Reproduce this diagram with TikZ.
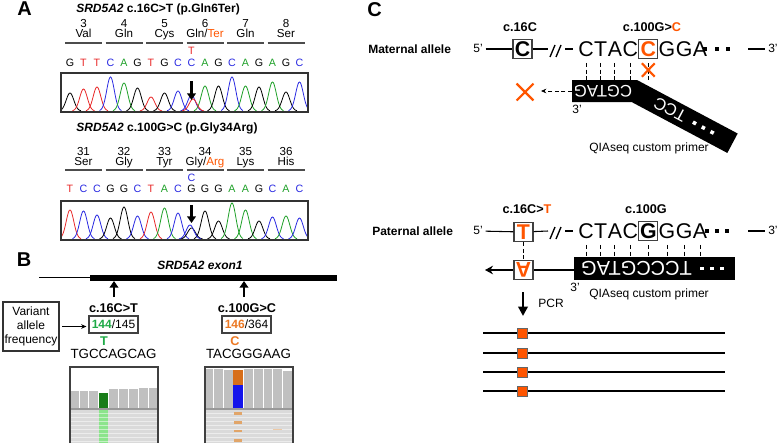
\documentclass[tikz,border=0pt]{standalone}
\usepackage{fontspec}
\setmainfont{Liberation Sans}
\usetikzlibrary{arrows.meta, positioning, shapes.misc}

\definecolor{colA}{RGB}{30,160,40}
\definecolor{colC}{RGB}{40,40,225}
\definecolor{colG}{RGB}{0,0,0}
\definecolor{colT}{RGB}{232,40,40}
\definecolor{mutorange}{RGB}{255,85,0}
\definecolor{vafgreen}{RGB}{30,170,70}
\definecolor{vaforange}{RGB}{235,120,35}
\definecolor{covgray}{RGB}{192,192,192}
\definecolor{readgray}{RGB}{218,218,218}
\definecolor{covgreen}{RGB}{25,125,25}
\definecolor{readgreen}{RGB}{140,228,140}
\definecolor{covorange}{RGB}{215,110,25}
\definecolor{covblue}{RGB}{20,20,235}
\definecolor{readorange}{RGB}{225,165,105}

\newcommand{\glnter}{Gln/\textcolor{mutorange}{Ter}}
\newcommand{\glyarg}{Gly/\textcolor{mutorange}{Arg}}

\tikzset{
  panel/.style={font=\fontsize{15}{15}\selectfont\bfseries, inner sep=0pt},
  title/.style={font=\fontsize{9}{10}\selectfont\bfseries, inner sep=0pt},
  codon/.style={font=\fontsize{8.7}{9}\selectfont, inner sep=0pt, text height=6.3pt, text depth=1.8pt},
  base/.style={font=\fontsize{8}{9}\selectfont, inner sep=0pt, text height=5.8pt, text depth=0pt},
  peak/.style={line width=0.6pt},
  chrombox/.style={draw=black!80, line width=1.1pt},
  codonbar/.style={draw=black!70, line width=1.1pt},
  fatarrow/.style={line width=2.2pt, -{Triangle[length=5pt, width=6.5pt]}},
  lbl/.style={font=\fontsize{9}{10.5}\selectfont, inner sep=0pt, text height=6.5pt, text depth=1.9pt},
  blbl/.style={font=\fontsize{9.5}{10}\selectfont\bfseries, inner sep=0pt, text height=6.8pt, text depth=0pt},
  alllbl/.style={font=\fontsize{9}{10}\selectfont\bfseries, inner sep=0pt, anchor=west, text height=6.5pt, text depth=0pt},
  vafbox/.style={draw=black!75, line width=0.8pt, font=\fontsize{9}{9}\selectfont, minimum width=36.75pt, minimum height=12.75pt, inner sep=1pt},
  bseq/.style={font=\fontsize{10}{10}\selectfont, inner sep=0pt, text height=7.2pt, text depth=0pt},
  seq/.style={font=\fontsize{16}{16}\selectfont, inner sep=0pt, text height=11.5pt, text depth=0pt},
  seqbox/.style={draw=black!75, line width=0.9pt, font=\fontsize{16}{16}\selectfont\bfseries, minimum size=14.25pt, inner sep=0pt, text height=11.5pt, text depth=0pt},
  strand/.style={line width=0.8pt},
  pair/.style={densely dashed, line width=0.6pt, shorten <=4.5pt},
  primertext/.style={font=\fontsize{15}{15}\selectfont, text=white, inner sep=0pt, text height=10.7pt, text depth=0pt},
  sqdot/.style={fill, minimum size=2.7pt, inner sep=0pt},
  mismatch/.style={cross out, draw=mutorange, line width=1.6pt, inner sep=0pt},
  mutsq/.style={fill=mutorange, draw=black!60, line width=0.6pt, minimum size=7.5pt, inner sep=0pt},
}

\begin{document}
\begin{tikzpicture}[x=0.75pt, y=-0.75pt]
    \useasboundingbox (0,0) rectangle (781,443);

    % ---------- A: Sanger traces ----------
    \node[panel] (A) at (24.5,8.5) {A};
    \node[title] (ta) at (158,9) {\textit{SRD5A2} c.16C>T (p.Gln6Ter)};
    \foreach \n/\aa [count=\k from 0] in {3/Val,4/Gln,5/Cys,6/\glnter,7/Gln,8/Ser} {
        \node[codon] (na\k) at ({83.5+40.5*\k},24) {\n};
        \node[codon] (aa\k) at ({83.5+40.5*\k},34) {\aa};
        \draw[codonbar] ({65+40.5*\k},43) -- ({102+40.5*\k},43);
    }
    \node[base, text=colT] (va) at (191.5,51) {T};
    \foreach \b [count=\i from 0] in {G,T,T,C,A,G,T,G,C,C,A,G,C,A,G,A,G,C}
        \node[base, text=col\b] (sa\i) at ({70+13.5*\i},63) {\b};
    \begin{scope}
        \clip (61,73) rectangle (308,112);
        \foreach \b/\h [count=\i from 0] in {G/18,T/22,T/24,C/34,A/28,G/23,T/14,G/18,C/20,
                                             C/16,A/25,G/25,C/34,A/25,G/24,A/29,G/19,C/29} {
            \pgfmathsetmacro\cx{70+13.5*\i}
            \pgfmathsetmacro\xa{\cx-11}
            \pgfmathsetmacro\xb{\cx+11}
            \draw[peak, col\b] plot[domain=\xa:\xb, samples=31, variable=\t]
                (\t, {111-\h*exp(-((\t-\cx)^2)/29)});
        }
        \draw[peak, colT] plot[domain=182:204, samples=31, variable=\t]
            (\t, {111-12*exp(-((\t-193)^2)/29)});
    \end{scope}
    \draw[chrombox] (61,73) rectangle (308,112);
    \coordinate (a1top) at (191.5,81);
    \coordinate (a1bot) at (191.5,100);
    \draw[fatarrow] (a1top) -- (a1bot);

    \node[title] (tb) at (167,128) {\textit{SRD5A2} c.100G>C (p.Gly34Arg)};
    \foreach \n/\aa [count=\k from 0] in {31/Ser,32/Gly,33/Tyr,34/\glyarg,35/Lys,36/His} {
        \node[codon] (nb\k) at ({83.5+40.5*\k},152) {\n};
        \node[codon] (ab\k) at ({83.5+40.5*\k},162) {\aa};
        \draw[codonbar] ({65+40.5*\k},170) -- ({102+40.5*\k},170);
    }
    \node[base, text=colC] (vb) at (191.5,178) {C};
    \foreach \b [count=\i from 0] in {T,C,C,G,G,C,T,A,C,G,G,G,A,A,G,C,A,C}
        \node[base, text=col\b] (sb\i) at ({70+13.5*\i},189) {\b};
    \begin{scope}
        \clip (61,201) rectangle (308,240);
        \foreach \b/\h [count=\i from 0] in {T/29,C/28,C/24,G/21,G/32,C/23,T/27,A/31,C/26,
                                             G/11,G/28,G/18,A/36,A/29,G/18,C/22,A/23,C/21} {
            \pgfmathsetmacro\cx{70+13.5*\i}
            \pgfmathsetmacro\xa{\cx-11}
            \pgfmathsetmacro\xb{\cx+11}
            \draw[peak, col\b] plot[domain=\xa:\xb, samples=31, variable=\t]
                (\t, {239-\h*exp(-((\t-\cx)^2)/29)});
        }
        \draw[peak, colC] plot[domain=179:201, samples=31, variable=\t]
            (\t, {239-14*exp(-((\t-190)^2)/29)});
    \end{scope}
    \draw[chrombox] (61,201) rectangle (308,240);
    \coordinate (a2top) at (191.5,205);
    \coordinate (a2bot) at (191.5,223);
    \draw[fatarrow] (a2top) -- (a2bot);

    % ---------- B: amplicon sequencing ----------
    \node[panel] (B) at (24,260) {B};
    \node[title, font=\fontsize{9}{10}\selectfont\bfseries\itshape] (exlab) at (200,265) {SRD5A2 exon1};
    \draw[line width=0.8pt] (39,277.5) -- (90,277.5);
    \fill (90,275) rectangle (337,280.5);
    \coordinate (exb) at (0,281);
    \coordinate (ar16) at (114,297);
    \coordinate (ar100) at (244,297);
    \draw[fatarrow] (ar16) -- (ar16 |- exb);
    \draw[fatarrow] (ar100) -- (ar100 |- exb);
    \node[blbl] (v16) at (113.5,308) {c.16C>T};
    \node[blbl] (v100) at (247,308) {c.100G>C};
    \node[vafbox] (f16) at (113.5,324.5) {\textbf{\textcolor{vafgreen}{144}}/145};
    \node[vafbox] (f100) at (246.5,324.5) {\textbf{\textcolor{vaforange}{146}}/364};
    \node[draw=black!80, line width=0.8pt, align=center, font=\fontsize{9}{10.5}\selectfont,
          minimum width=42pt, minimum height=36.75pt, inner sep=1pt] (vaf) at (31,326.5)
          {Variant\\allele\\frequency};
    \draw[line width=0.8pt, -{Stealth[length=4pt, width=3.5pt]}, shorten <=2pt, shorten >=1.5pt]
        (vaf.east) -- (vaf.east -| f16.west);
    \node[blbl, text=vafgreen] (t16) at (104,341) {T};
    \node[blbl, text=vaforange] (c100) at (235,341) {C};
    \node[bseq] (s16) at (113.5,354) {TGCCAGCAG};
    \node[bseq] (s100) at (248.5,354) {TACGGGAAG};

    % IGV view, c.16C>T
    \fill[white] (70,367) rectangle (158,443);
    \foreach \xa/\xb/\yt in {71/79/391, 80/88/391, 89/98/391, 109/118/389,
                             119/128/389, 129/138/389, 139/148/388, 149/157.5/388}
        \fill[covgray] (\xa,\yt) rectangle (\xb,408);
    \fill[covgreen] (99,393) rectangle (108,408);
    \fill[black!40] (70.5,408) rectangle (157.5,410);
    \fill[readgray] (70.5,410) rectangle (157.5,443);
    \fill[readgreen] (99,410) rectangle (108,443);
    \foreach \y in {413,417,...,441}
        \draw[white, opacity=0.5, line width=0.4pt] (70.5,\y) -- (157.5,\y);
    \draw[black!75, line width=0.8pt] (70,443) |- (158,367) -- (158,443);

    % IGV view, c.100G>C
    \fill[white] (205,367) rectangle (293,443);
    \foreach \xa/\xb/\yt in {206/213/369, 214/223/369, 224/232.5/370, 244/253/369,
                             254/263/369, 263.5/272/369, 273/282/369, 283/292.5/371}
        \fill[covgray] (\xa,\yt) rectangle (\xb,408);
    \fill[covorange] (233,370) rectangle (243,385);
    \fill[covblue] (233,385) rectangle (243,408);
    \fill[black!40] (205.5,408) rectangle (292.5,410);
    \fill[readgray] (205.5,410) rectangle (292.5,443);
    \foreach \y in {413,417,...,441}
        \draw[white, opacity=0.5, line width=0.4pt] (205.5,\y) -- (292.5,\y);
    \foreach \ya/\yb in {412/415, 420.5/423.5, 429.5/432, 438.5/441.5}
        \fill[readorange] (234,\ya) rectangle (242,\yb);
    \fill[readorange!60] (273,428.5) rectangle (282,430);
    \draw[black!75, line width=0.8pt] (205,443) |- (293,367) -- (293,443);

    % ---------- C: allele-specific priming ----------
    \node[panel] (C) at (374.5,9.5) {C};

    % maternal allele
    \node[alllbl] (matlbl) at (368,49) {Maternal allele};
    \node[lbl] (m5p) at (478,49) {5'};
    \node[seqbox] (m16) at (522.5,49) {C};
    \node[blbl] (m16lab) at (520,27) {c.16C};
    \coordinate (mslA) at (548,49);
    \coordinate (mslB) at (565,49);
    \node[seq, anchor=west] (m1) at (578,49) {C};
    \node[seq, right=0pt of m1] (m2) {T};
    \node[seq, right=0pt of m2] (m3) {A};
    \node[seq, right=0pt of m3] (m4) {C};
    \node[seqbox, right=0pt of m4, text=mutorange] (m100) {C};
    \node[seq, right=0pt of m100] (m5) {G};
    \node[seq, right=0pt of m5] (m6) {G};
    \node[seq, right=0pt of m6] (m7) {A};
    \foreach \x [count=\i] in {705,717,728}
        \node[sqdot] (mdot\i) at (\x,49) {};
    \coordinate (mend) at (748,49);
    \node[lbl, anchor=west] (m3p) at (768,49) {3'};
    \node[blbl] (m100lab) at (652,27) {c.100G>\textcolor{mutorange}{C}};
    \draw[strand, shorten <=2pt] (m5p) -- (m16);
    \draw[strand] (m16) -- (mslA);
    \draw[strand, shorten >=4pt] (mslB) -- (m1);
    \draw[strand, shorten >=2pt] (mend) -- (m3p);
    \draw[line width=1pt] (550,57) -- (555,45) (556,57) -- (561,45);

    % primer bound to the maternal strand, 3' end bent away
    \fill (572,80) -- (637,80) -- ++(28:114) -- ++(118:22) -- (631.6,102) -- (572,102) -- cycle;
    \node[primertext, font=\fontsize{12.5}{12.5}\selectfont, text height=9pt, rotate=180] (mprit) at (603,91) {CGTAG};
    \node[primertext, font=\fontsize{12.5}{12.5}\selectfont, text height=9pt, rotate=152] (mprit2) at (670,110) {TCC};
    \foreach \t [count=\i] in {71,81,91}
        \node[sqdot, white, rotate=-28] (mwd\i) at ({631.8+0.883*\t},{89.7+0.469*\t}) {};
    \coordinate (mtop) at (0,80);
    \foreach \n in {m1,m2,m3,m4}
        \draw[pair] (\n.south) -- (\n.south |- mtop);
    \draw[pair, shorten <=3pt] (m100.south) -- (m100.south |- mtop);
    \coordinate (myx) at (0,70);
    \node[mismatch, minimum width=8pt, minimum height=8.5pt] (mx1) at (m100.south |- myx) {};
    \coordinate (mpriw) at (572,91);
    \coordinate (mfail) at (541,91);
    \draw[densely dashed, line width=0.7pt, -{Stealth[length=4pt, width=3.5pt]}] (mpriw) -- (mfail);
    \node[mismatch, minimum size=11pt] (mx2) at (525,92) {};
    \node[lbl] (m3pp) at (577,110) {3'};
    \node[lbl] (mqia) at (649,148) {QIAseq custom primer};

    % paternal allele
    \node[alllbl] (patlbl) at (372,231) {Paternal allele};
    \node[lbl] (p5p) at (478,231) {5'};
    \node[seqbox, text=mutorange] (p16) at (523.5,232) {T};
    \node[blbl] (p16lab) at (527,209) {c.16C>\textcolor{mutorange}{T}};
    \coordinate (pslA) at (548,231);
    \coordinate (pslB) at (565,231);
    \node[seq, anchor=west] (p1) at (578,231) {C};
    \node[seq, right=0pt of p1] (p2) {T};
    \node[seq, right=0pt of p2] (p3) {A};
    \node[seq, right=0pt of p3] (p4) {C};
    \node[seqbox, right=0pt of p4] (p100) {G};
    \node[seq, right=0pt of p100] (p5) {G};
    \node[seq, right=0pt of p5] (p6) {G};
    \node[seq, right=0pt of p6] (p7) {A};
    \foreach \x [count=\i] in {707,717,727}
        \node[sqdot] (pdot\i) at (\x,231) {};
    \coordinate (pend) at (748,231);
    \node[lbl, anchor=west] (p3p) at (768,231) {3'};
    \node[blbl] (p100lab) at (646,209) {c.100G};
    \draw[strand, shorten <=2pt] (p5p) -- (p16);
    \draw[strand] (p16) -- (pslA);
    \draw[strand, shorten >=4pt] (pslB) -- (p1);
    \draw[strand, shorten >=2pt] (pend) -- (p3p);
    \draw[line width=1pt] (550,239) -- (555,227) (556,239) -- (561,227);

    % primer matched on the paternal strand
    \node[fill, minimum width=120.75pt, minimum height=17.25pt, inner sep=0pt] (ppri) at (654.5,268.5) {};
    \node[primertext, rotate=180] (pprit) at (636.5,268.5) {TCCCGTAG};
    \foreach \x [count=\i] in {702,712,722}
        \node[sqdot, white] (pwd\i) at (\x,268.5) {};
    \foreach \n in {p1,p2,p3,p4,p5,p6,p7}
        \draw[pair] (\n.south) -- (\n.south |- ppri.north);
    \draw[pair, shorten <=3pt] (p100.south) -- (p100.south |- ppri.north);
    \node[seqbox, text=mutorange, rotate=180] (pA) at (523.5,270) {A};
    \draw[pair, shorten <=0pt] (p16) -- (pA);
    \coordinate (pfail) at (485,270);
    \draw[line width=1.6pt] (ppri.west |- pA.center) -- (pA);
    \draw[line width=1.6pt, -{Stealth[length=6pt, width=6.5pt]}] (pA) -- (pfail);
    \node[lbl] (p3pp) at (575,288) {3'};
    \node[lbl] (pqia) at (649,294) {QIAseq custom primer};

    % PCR products carrying c.16C>T
    \coordinate (pcrA) at (523,292);
    \coordinate (pcrB) at (523,316);
    \draw[line width=2.2pt, -{Triangle[length=7pt, width=7pt]}] (pcrA) -- (pcrB);
    \node[lbl] (pcr) at (551,304) {PCR};
    \foreach \y [count=\i] in {333,353,372,391} {
        \draw[line width=1pt] (483,\y) -- (725,\y);
        \node[mutsq] (sq\i) at (522.5,\y) {};
    }
\end{tikzpicture}
\end{document}
